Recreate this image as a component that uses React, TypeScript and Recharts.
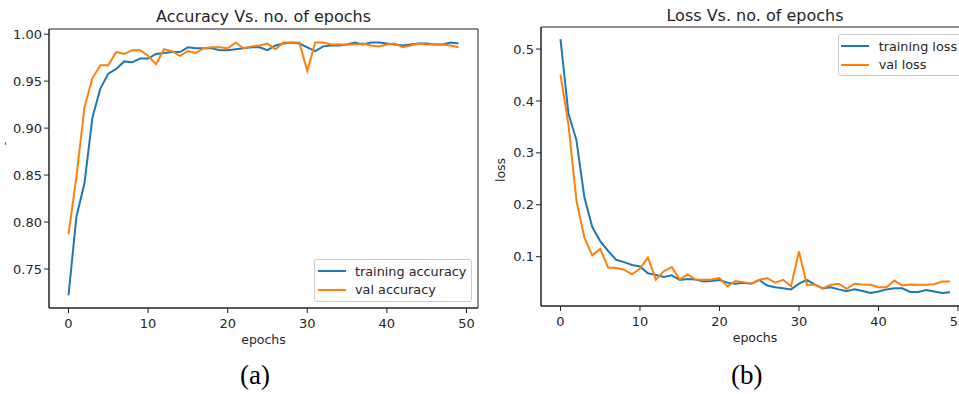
import { LineChart, Line, XAxis, YAxis, Legend, ReferenceArea } from 'recharts'

const FONT = '"DejaVu Sans", sans-serif'
const INK = '#262626'
const BLUE = '#1f77b4'
const ORANGE = '#ff7f0e'

const epochs = [
  0, 1, 2, 3, 4, 5, 6, 7, 8, 9, 10, 11, 12, 13, 14, 15, 16, 17, 18, 19, 20, 21, 22, 23, 24,
  25, 26, 27, 28, 29, 30, 31, 32, 33, 34, 35, 36, 37, 38, 39, 40, 41, 42, 43, 44, 45, 46, 47, 48, 49,
]

const trainAcc = [
  0.722, 0.806, 0.841, 0.911, 0.942, 0.958, 0.963, 0.971, 0.970, 0.974,
  0.974, 0.979, 0.980, 0.981, 0.981, 0.986, 0.985, 0.985, 0.985, 0.983,
  0.983, 0.984, 0.985, 0.986, 0.986, 0.983, 0.988, 0.990, 0.991, 0.990,
  0.986, 0.982, 0.987, 0.988, 0.988, 0.989, 0.991, 0.989, 0.991, 0.991,
  0.990, 0.989, 0.988, 0.989, 0.990, 0.990, 0.989, 0.989, 0.991, 0.990,
]

const valAcc = [
  0.787, 0.848, 0.922, 0.953, 0.967, 0.967, 0.981, 0.979, 0.983, 0.983,
  0.977, 0.968, 0.984, 0.982, 0.977, 0.982, 0.980, 0.985, 0.986, 0.986,
  0.985, 0.991, 0.985, 0.987, 0.988, 0.990, 0.984, 0.991, 0.991, 0.991,
  0.961, 0.991, 0.991, 0.989, 0.989, 0.989, 0.989, 0.990, 0.988, 0.987,
  0.989, 0.990, 0.986, 0.988, 0.990, 0.989, 0.989, 0.989, 0.988, 0.986,
]

const trainLoss = [
  0.519, 0.376, 0.325, 0.215, 0.157, 0.13, 0.111, 0.094, 0.0896, 0.084,
  0.081, 0.068, 0.065, 0.061, 0.064, 0.055, 0.057, 0.056, 0.052, 0.053,
  0.055, 0.05, 0.048, 0.05, 0.048, 0.055, 0.0445, 0.041, 0.039, 0.037,
  0.048, 0.0555, 0.046, 0.039, 0.041, 0.037, 0.0335, 0.037, 0.034, 0.03,
  0.033, 0.037, 0.039, 0.039, 0.032, 0.032, 0.036, 0.033, 0.03, 0.0316,
]

const valLoss = [
  0.451, 0.355, 0.209, 0.137, 0.1025, 0.115, 0.079, 0.078, 0.075, 0.066,
  0.077, 0.098, 0.056, 0.072, 0.08, 0.056, 0.066, 0.056, 0.0555, 0.056,
  0.059, 0.043, 0.053, 0.051, 0.048, 0.0555, 0.059, 0.05, 0.0555, 0.043,
  0.11, 0.046, 0.046, 0.039, 0.046, 0.048, 0.038, 0.048, 0.0465, 0.046,
  0.041, 0.041, 0.054, 0.0445, 0.0465, 0.046, 0.046, 0.047, 0.052, 0.052,
]

const epochTicks = [0, 10, 20, 30, 40, 50]
const accTicks = [0.75, 0.8, 0.85, 0.9, 0.95, 1.0]
const lossTicks = [0.1, 0.2, 0.3, 0.4, 0.5]

const X_DOMAIN: [number, number] = [-2.45, 51.45]
const ACC_DOMAIN: [number, number] = [0.7085, 1.0055]
const LOSS_DOMAIN: [number, number] = [0.005, 0.5425]

const accData = epochs.map((epoch, i) => ({ epoch, train: trainAcc[i], val: valAcc[i] }))
const lossData = epochs.map((epoch, i) => ({ epoch, train: trainLoss[i], val: valLoss[i] }))

const tickStyle = { fontSize: 13, fill: INK, fontFamily: FONT }
const axisLine = { stroke: '#222', strokeWidth: 1 }
const tickLine = { stroke: '#222', strokeWidth: 1 }

const renderLegend = (props: any) => (
  <div
    style={{
      boxSizing: 'border-box',
      width: '100%',
      height: '100%',
      border: '1px solid #cccccc',
      borderRadius: 3,
      background: 'rgba(255,255,255,0.8)',
      padding: '2px 0 0 2.5px',
      fontFamily: FONT,
      fontSize: 12.8,
      color: INK,
    }}
  >
    {(props.payload || []).map((entry: any) => (
      <div key={entry.value} style={{ display: 'flex', alignItems: 'center', height: 18.6 }}>
        <span style={{ display: 'inline-block', width: 28, height: 2, background: entry.color, marginRight: 9.5 }} />
        <span style={{ whiteSpace: 'nowrap' }}>{entry.value}</span>
      </div>
    ))}
  </div>
)

export default function App() {
  return (
    <div style={{ position: 'absolute', left: 0, top: 0, width: 959, height: 394, overflow: 'hidden', background: '#fff' }}>
      <div style={{ position: 'absolute', left: 0, top: 0 }}>
        <LineChart width={480} height={394} data={accData} margin={{ top: 29, right: 2, bottom: 0, left: 0 }}>
          <XAxis
            dataKey="epoch"
            type="number"
            domain={X_DOMAIN}
            ticks={epochTicks}
            allowDataOverflow
            height={86}
            axisLine={axisLine}
            tickLine={tickLine}
            tickSize={5}
            tickMargin={6}
            tick={tickStyle}
            interval={0}
          />
          <YAxis
            type="number"
            domain={ACC_DOMAIN}
            ticks={accTicks}
            allowDataOverflow
            width={49}
            axisLine={axisLine}
            tickLine={tickLine}
            tickSize={5}
            tickMargin={2}
            tick={tickStyle}
            interval={0}
            tickFormatter={(v: number) => v.toFixed(2)}
          />
          {/* box round the plot, like matplotlib's four spines */}
          <ReferenceArea x1={X_DOMAIN[0]} x2={X_DOMAIN[1]} y1={ACC_DOMAIN[0]} y2={ACC_DOMAIN[1]} fill="none" stroke="#222" strokeWidth={1} />
          <Legend
            layout="vertical"
            align="center"
            verticalAlign="middle"
            content={renderLegend}
            wrapperStyle={{ left: 314, top: 259, width: 158, height: 43 }}
          />
          <Line name="training accuracy" dataKey="train" stroke={BLUE} strokeWidth={2} dot={false} isAnimationActive={false} />
          <Line name="val accuracy" dataKey="val" stroke={ORANGE} strokeWidth={2} dot={false} isAnimationActive={false} />
        </LineChart>
      </div>

      <div style={{ position: 'absolute', left: 480, top: 0 }}>
        <LineChart width={500} height={394} data={lossData} margin={{ top: 27, right: 10.5, bottom: 0, left: 0 }}>
          <XAxis
            dataKey="epoch"
            type="number"
            domain={X_DOMAIN}
            ticks={epochTicks}
            allowDataOverflow
            height={88}
            axisLine={axisLine}
            tickLine={tickLine}
            tickSize={5}
            tickMargin={6}
            tick={tickStyle}
            interval={0}
          />
          <YAxis
            type="number"
            domain={LOSS_DOMAIN}
            ticks={lossTicks}
            allowDataOverflow
            width={61}
            axisLine={axisLine}
            tickLine={tickLine}
            tickSize={5}
            tickMargin={2}
            tick={tickStyle}
            interval={0}
            tickFormatter={(v: number) => v.toFixed(1)}
          />
          <ReferenceArea x1={X_DOMAIN[0]} x2={X_DOMAIN[1]} y1={LOSS_DOMAIN[0]} y2={LOSS_DOMAIN[1]} fill="none" stroke="#222" strokeWidth={1} />
          <Legend
            layout="vertical"
            align="center"
            verticalAlign="middle"
            content={renderLegend}
            wrapperStyle={{ left: 357.7, top: 34, width: 126, height: 42 }}
          />
          <Line name="training loss" dataKey="train" stroke={BLUE} strokeWidth={2} dot={false} isAnimationActive={false} />
          <Line name="val loss" dataKey="val" stroke={ORANGE} strokeWidth={2} dot={false} isAnimationActive={false} />
        </LineChart>
      </div>

      <svg width={959} height={394} style={{ position: 'absolute', left: 0, top: 0, pointerEvents: 'none' }}>
        <g fontFamily={FONT} fill={INK}>
          <text x={263.5} y={22} fontSize={16} textAnchor="middle">Accuracy Vs. no. of epochs</text>
          <text x={755} y={21} fontSize={16} textAnchor="middle">Loss Vs. no. of epochs</text>
          <text x={263.5} y={343.5} fontSize={12.5} textAnchor="middle">epochs</text>
          <text x={755} y={342} fontSize={12.5} textAnchor="middle">epochs</text>
          <text transform="translate(505,170) rotate(-90)" fontSize={12.5} textAnchor="middle">loss</text>
          <text x={4} y={150} fontSize={10}>'</text>
        </g>
        <g fontFamily='"Liberation Serif", serif' fill="#000" fontSize={27}>
          <text x={255} y={384} textAnchor="middle">(a)</text>
          <text x={746.7} y={384} textAnchor="middle">(b)</text>
        </g>
      </svg>
    </div>
  )
}
